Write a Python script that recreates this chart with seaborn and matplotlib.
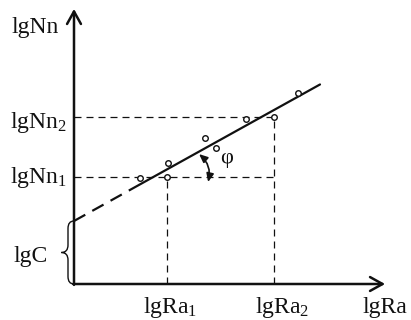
import matplotlib
matplotlib.use("Agg")
import matplotlib.pyplot as plt
from matplotlib.path import Path
from matplotlib.patches import PathPatch
import numpy as np
import pandas as pd
import seaborn as sns

# Measured points (lgRa, lgNn)
lg_ra_pts = [2.2, 3.1, 3.13, 4.37, 4.73, 5.73, 6.68, 7.47]
lg_nn_pts = [3.53, 3.57, 4.03, 4.87, 4.53, 5.5, 5.57, 6.37]

# Reference levels
lg_ra_1, lg_ra_2 = 3.1, 6.68
lg_nn_1, lg_nn_2 = 3.57, 5.57

# Fitted line lgNn = lgC + k * lgRa
lg_c = 2.1
slope = 0.555
x_extrap = [0.0, 1.87]      # extrapolated part (dashed)
x_fit = [1.87, 8.2]         # fitted range (solid)

# Axis extents
x_axis_end = 10.37
y_axis_end = 9.17

x_tick_labels = ["lgRa$_1$", "lgRa$_2$", "lgRa"]
y_tick_labels = ["lgNn", "lgNn$_2$", "lgNn$_1$", "lgC"]

sns.set_theme(style="white")
plt.rcParams["font.family"] = ["Liberation Serif", "DejaVu Serif"]
plt.rcParams["mathtext.fontset"] = "custom"
plt.rcParams["mathtext.rm"] = "Liberation Serif"
plt.rcParams["mathtext.default"] = "regular"

fig = plt.figure(figsize=(4.11, 3.20), dpi=100)
ax = fig.add_axes([0, 0, 1, 1])
ax.set_xlim(-74 / 30, 337 / 30)
ax.set_ylim(-36 / 30, 284 / 30)
ax.axis("off")

ink = "#111111"

# Guide lines at the two reference levels
guide = dict(color=ink, lw=0.9, linestyle=(0, (5.6, 4.0)))
ax.plot([0, lg_ra_2], [lg_nn_1, lg_nn_1], **guide)
ax.plot([0, lg_ra_2], [lg_nn_2, lg_nn_2], **guide)
ax.plot([lg_ra_1, lg_ra_1], [0, lg_nn_1], **guide)
ax.plot([lg_ra_2, lg_ra_2], [0, lg_nn_2], **guide)

# Fitted line: extrapolated (dashed) and fitted (solid)
df_ext = pd.DataFrame({"x": x_extrap, "y": [lg_c + slope * v for v in x_extrap]})
df_fit = pd.DataFrame({"x": x_fit, "y": [lg_c + slope * v for v in x_fit]})
sns.lineplot(data=df_ext, x="x", y="y", ax=ax, color=ink, lw=1.6,
             linestyle=(0, (5.8, 3.6)), sort=False)
sns.lineplot(data=df_fit, x="x", y="y", ax=ax, color=ink, lw=1.6, sort=False)

# Measured points
df_pts = pd.DataFrame({"x": lg_ra_pts, "y": lg_nn_pts})
sns.scatterplot(data=df_pts, x="x", y="y", ax=ax, s=16, marker="o",
                facecolor="white", edgecolor=ink, linewidth=1.0, zorder=5)

# Coordinate axes with arrows
arrow = dict(arrowstyle="->,head_length=0.45,head_width=0.25", lw=1.8,
             color=ink, mutation_scale=20, shrinkA=0, shrinkB=0)
ax.annotate("", xy=(0, y_axis_end), xytext=(0, -0.03), arrowprops=arrow)
ax.annotate("", xy=(x_axis_end, 0), xytext=(-0.03, 0), arrowprops=arrow)

# Angle of the line
ax.annotate("", xy=(4.47, 3.4), xytext=(4.17, 4.33),
            arrowprops=dict(arrowstyle="<|-|>,head_length=0.5,head_width=0.22",
                            lw=1.2, color=ink, mutation_scale=10,
                            shrinkA=0, shrinkB=0,
                            connectionstyle="arc3,rad=-0.3"))
ax.text(5.07, 4.2, "φ", fontsize=16, color=ink, ha="center", va="center")

# Brace marking the intercept lgC
w, t, r = 0.2, 0.42, 0.25
top, bot = lg_c, 0.0
mid = (top + bot) / 2
verts = [(0, top), (-w, top), (-w, top - r),
         (-w, mid + r),
         (-w, mid), (-t, mid),
         (-w, mid), (-w, mid - r),
         (-w, bot + r),
         (-w, bot), (0, bot)]
codes = [Path.MOVETO, Path.CURVE3, Path.CURVE3,
         Path.LINETO,
         Path.CURVE3, Path.CURVE3,
         Path.CURVE3, Path.CURVE3,
         Path.LINETO,
         Path.CURVE3, Path.CURVE3]
ax.add_patch(PathPatch(Path(verts, codes), fill=False, lw=1.0, color=ink))

# Labels
fs = 17
ax.text(-2.07, 8.37, y_tick_labels[0], fontsize=fs, color=ink, ha="left", va="baseline")
ax.text(-2.13, 5.2, y_tick_labels[1], fontsize=fs, color=ink, ha="left", va="baseline")
ax.text(-2.13, 3.37, y_tick_labels[2], fontsize=fs, color=ink, ha="left", va="baseline")
ax.text(-2.03, 0.73, y_tick_labels[3], fontsize=fs, color=ink, ha="left", va="baseline")
ax.text(2.3, -0.97, x_tick_labels[0], fontsize=fs, color=ink, ha="left", va="baseline")
ax.text(6.03, -0.97, x_tick_labels[1], fontsize=fs, color=ink, ha="left", va="baseline")
ax.text(9.6, -0.97, x_tick_labels[2], fontsize=fs, color=ink, ha="left", va="baseline")

fig.savefig("out.png", dpi=100)
